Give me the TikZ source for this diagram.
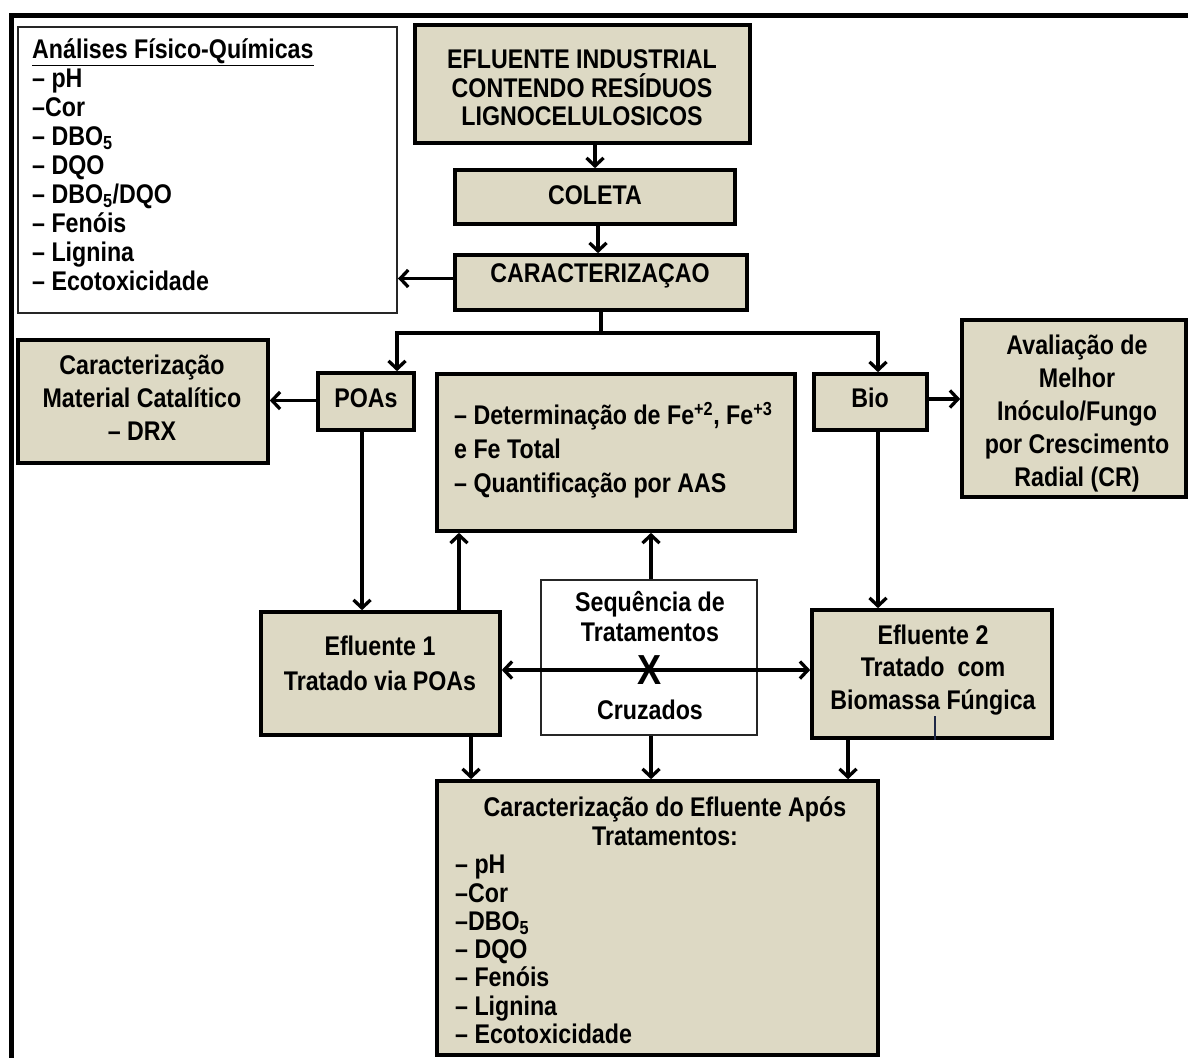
\documentclass[tikz,border=0pt]{standalone}
\usepackage{fontspec}
\setmainfont{Liberation Sans}[FakeStretch=0.86]
\usetikzlibrary{arrows.meta,calc}
\definecolor{boxfill}{RGB}{221,217,196}
\definecolor{navy}{RGB}{30,40,70}
\newcommand\ftA{\fontsize{27}{28.5}\selectfont\bfseries}
\newcommand\ftB{\fontsize{27}{33}\selectfont\bfseries}
\begin{document}
\begin{tikzpicture}[x=1pt,y=-1pt,
  tanbox/.style={draw=black, line width=3.6pt, fill=boxfill, inner sep=0pt},
  whitebox/.style={draw=black!85, line width=2pt, fill=white, inner sep=0pt},
  txt/.style={inner sep=0pt, align=center, font=\ftA},
  txtB/.style={inner sep=0pt, align=center, font=\ftB},
  ltxt/.style={inner sep=0pt, align=left, font=\ftA, anchor=north west},
  conn/.style={line width=3.3pt},
  arr/.style={line width=3.3pt, -{Straight Barb[length=8pt,width=17pt]}},
  darr/.style={line width=3.3pt, {Straight Barb[length=8pt,width=17pt]}-{Straight Barb[length=8pt,width=17pt]}}
]
\useasboundingbox (0,0) rectangle (1188,1057);
\fill[white] (0,0) rectangle (1188,1057);
% outer frame
\draw[line width=5pt] (11,1062) -- (11,16) -- (1192,16);

% boxes
\node[whitebox, minimum width=379pt, minimum height=286pt] (ana) at (207.5,170) {};
\node[tanbox, minimum width=335pt, minimum height=118pt] (ind) at (582.5,84) {};
\node[tanbox, minimum width=280pt, minimum height=54pt] (col) at (595,197) {};
\node[tanbox, minimum width=292pt, minimum height=55pt] (car) at (601,282.5) {};
\node[tanbox, minimum width=250pt, minimum height=123pt] (cat) at (143,401.5) {};
\node[tanbox, minimum width=96pt, minimum height=57pt] (poa) at (366,401.5) {};
\node[tanbox, minimum width=358pt, minimum height=157pt] (fe) at (616,452.5) {};
\node[tanbox, minimum width=113pt, minimum height=56pt] (bio) at (870.5,402) {};
\node[tanbox, minimum width=224pt, minimum height=177pt] (ava) at (1074,408.5) {};
\node[tanbox, minimum width=239pt, minimum height=123pt] (ef1) at (380.5,673.5) {};
\node[whitebox, minimum width=216pt, minimum height=155pt] (seq) at (649,657.5) {};
\node[tanbox, minimum width=240pt, minimum height=128pt] (ef2) at (932,674) {};
\node[tanbox, minimum width=441pt, minimum height=274pt] (fin) at (657.5,918) {};

% texts
\node[ltxt, font=\fontsize{27}{29}\selectfont\bfseries] (anat) at (32,38) {\underline{Análises Físico-Químicas}\\– pH\\–Cor\\– DBO\textsubscript{5}\\– DQO\\– DBO\textsubscript{5}/DQO\\– Fenóis\\– Lignina\\– Ecotoxicidade};
\node[txt] (indt) at (582,88) {EFLUENTE INDUSTRIAL\\CONTENDO RESÍDUOS\\LIGNOCELULOSICOS};
\node[txt] (colt) at (595,195) {COLETA};
\node[txt] (cart) at (600,276) {CARACTERIZAÇAO};
\node[txtB] (catt) at (142,398) {Caracterização\\Material Catalítico\\– DRX};
\node[txt] (poat) at (366,398) {POAs};
\node[ltxt, font=\fontsize{27}{34}\selectfont\bfseries] (fet) at (454,402) {– Determinação de Fe\textsuperscript{+2}, Fe\textsuperscript{+3}\\e Fe Total\\– Quantificação por AAS};
\node[txt] (biot) at (870,398) {Bio};
\node[txtB] (avat) at (1077,414) {Avaliação de\\Melhor\\Inóculo/Fungo\\por Crescimento\\Radial (CR)};
\node[txtB, font=\fontsize{27}{35}\selectfont\bfseries] (ef1t) at (380,663) {Efluente 1\\Tratado via POAs};
\node[txt, font=\fontsize{27}{30}\selectfont\bfseries] (seqt) at (650,617) {Sequência de\\Tratamentos};
\node[txt] (seqc) at (650,710) {Cruzados};
\node[txtB, font=\fontsize{27}{32.5}\selectfont\bfseries] (ef2t) at (933,670) {Efluente 2\\Tratado\ \ com\\Biomassa Fúngica};
\node[txt] (fint) at (665,821) {Caracterização do Efluente Após\\Tratamentos:};
\node[ltxt, font=\fontsize{27}{28.3}\selectfont\bfseries] (finl) at (455,855) {– pH\\–Cor\\–DBO\textsubscript{5}\\– DQO\\– Fenóis\\– Lignina\\– Ecotoxicidade};

% connectors
\draw[arr] (col.north |- ind.south) -- (col.north);
\draw[arr] ([xshift=3pt]col.south) -- ([xshift=3pt]col.south |- car.north);
\draw[arr] ([yshift=4pt]car.west) -- ([yshift=4pt]car.west -| ana.east);
\coordinate (jl) at (397,333);
\coordinate (jr) at (878,333);
\draw[conn] (car.south) -- (car.south |- jl);
\draw[conn, line cap=rect] (jl) -- (jr);
\draw[arr] (jl) -- (jl |- poa.north);
\draw[arr] (jr) -- (jr |- bio.north);
\draw[arr] ([yshift=1pt]poa.west) -- ([yshift=1pt]poa.west -| cat.east);
\draw[arr] ([yshift=3pt]bio.east) -- ([yshift=3pt]bio.east -| ava.west);
\coordinate (p1) at ([xshift=-4pt]poa.south);
\draw[arr] (p1) -- (p1 |- ef1.north);
\coordinate (b1) at (jr |- bio.south);
\draw[arr] (b1) -- (b1 |- ef2.north);
\coordinate (e1) at ([xshift=78.5pt]ef1.north);
\draw[arr] (e1) -- (e1 |- fe.south);
\coordinate (s1) at ([xshift=2pt]seq.north);
\draw[arr] (s1) -- (s1 |- fe.south);
\draw[darr] ([yshift=3.5pt]ef1.east) -- ([yshift=4pt]ef2.west);
\node[inner sep=0pt, font=\fontsize{42}{42}\selectfont\bfseries] (xx) at (650,670) {X};
\coordinate (e2) at ([xshift=90.5pt]ef1.south);
\draw[arr] (e2) -- (e2 |- fin.north);
\coordinate (s2) at ([xshift=2pt]seq.south);
\draw[arr] (s2) -- (s2 |- fin.north);
\coordinate (e3) at ([xshift=-84pt]ef2.south);
\draw[arr] (e3) -- (e3 |- fin.north);
% stray tick mark inside Efluente 2
\coordinate (tk) at ([xshift=3pt]ef2.south);
\draw[navy, line width=1.5pt] (tk) -- ++(0,-24);
\end{tikzpicture}
\end{document}
